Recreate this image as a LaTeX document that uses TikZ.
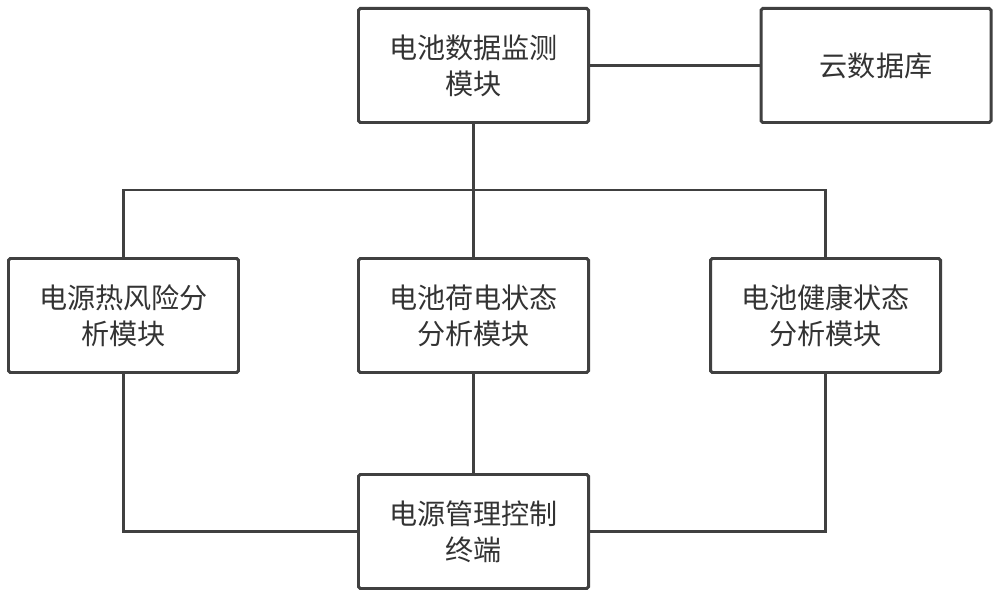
\documentclass[tikz,border=0pt]{standalone}
\usepackage{fontspec}
\newfontfamily\cjk{Noto Sans CJK SC}
\definecolor{linegray}{HTML}{404040}
\definecolor{textgray}{HTML}{333333}

\tikzset{
  modbox/.style={draw=linegray, line width=1.7pt, rounded corners=1pt, minimum width=4.6cm, minimum height=2.28cm, inner sep=0pt, align=center, text=textgray, font=\cjk\fontsize{16}{20.5}\selectfont},
  link/.style={draw=linegray, line width=1.7pt}
}

\begin{document}
\begin{tikzpicture}
\useasboundingbox[fill=white] (0,0) rectangle (20,-11.96);

% Draw module boxes
\node[modbox] (monitor) at (9.47,-1.31) {电池数据监测\\模块};
\node[modbox] (cloud) at (17.52,-1.31) {云数据库};
\node[modbox] (thermal) at (2.47,-6.31) {电源热风险分\\析模块};
\node[modbox] (soc) at (9.47,-6.31) {电池荷电状态\\分析模块};
\node[modbox] (soh) at (16.51,-6.31) {电池健康状态\\分析模块};
\node[modbox] (terminal) at (9.47,-10.63) {电源管理控制\\终端};

% Draw connections
\coordinate (bus) at (9.47,-3.8);
\draw[link] (monitor.east) -- (cloud.west);
\draw[link] (monitor.south) -- (soc.north);
\draw[link] (thermal.north) |- (bus) -| (soh.north);
\draw[link] (soc.south) -- (terminal.north);
\draw[link] (thermal.south) |- (terminal.west);
\draw[link] (soh.south) |- (terminal.east);
\end{tikzpicture}
\end{document}
